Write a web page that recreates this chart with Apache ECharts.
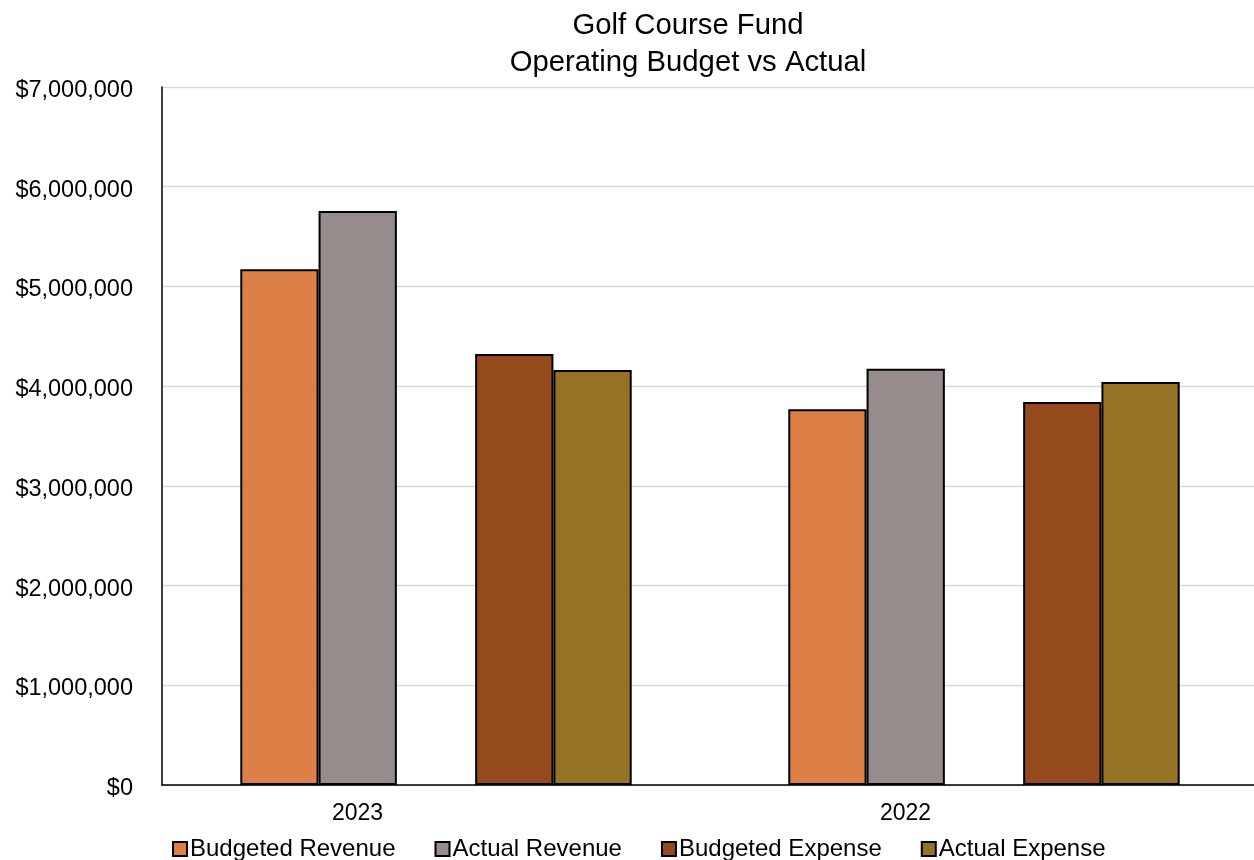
<!DOCTYPE html>
<html>
<head>
<meta charset="utf-8">
<title>Golf Course Fund</title>
<script src="https://cdn.jsdelivr.net/npm/echarts@6/dist/echarts.min.js"></script>
<style>
  html, body { margin: 0; padding: 0; background: #ffffff; }
  #chart { width: 1254px; height: 860px; }
</style>
</head>
<body>
<div id="chart"></div>
<script>
// Fiscal years shown on the category axis
const years = ['2023', '2022'];

// Series values in dollars, one per year
const budgetedRevenue = [5172000, 3768000];
const actualRevenue   = [5757000, 4175000];
const budgetedExpense = [4323000, 3841000];
const actualExpense   = [4162000, 4042000];

// Value axis ticks
const yMin = 0;
const yMax = 7000000;
const yStep = 1000000;

const FONT = '"Liberation Sans", Arial, sans-serif';

const colors = {
  budgetedRevenue: '#DD8047',
  actualRevenue: '#968C8C',
  budgetedExpense: '#944A1C',
  actualExpense: '#967225'
};

function barSeries(name, data, color) {
  return {
    name: name,
    type: 'bar',
    data: data,
    barGap: '0%',
    barCategoryGap: '28.57%',
    itemStyle: { color: color, borderColor: '#000000', borderWidth: 2 },
    emphasis: { disabled: true }
  };
}

const chart = echarts.init(document.getElementById('chart'), null, { renderer: 'canvas' });

chart.setOption({
  animation: false,
  backgroundColor: '#ffffff',
  title: {
    text: 'Golf Course Fund\nOperating Budget vs Actual',
    left: 688,
    top: 7,
    padding: 0,
    textAlign: 'center',
    textStyle: {
      fontFamily: FONT,
      fontSize: 29.3,
      fontWeight: 'normal',
      color: '#000000',
      lineHeight: 37
    }
  },
  legend: {
    data: ['Budgeted Revenue', 'Actual Revenue', 'Budgeted Expense', 'Actual Expense'],
    left: 172,
    top: 837,
    padding: 0,
    itemGap: 39,
    itemWidth: 14,
    itemHeight: 14,
    icon: 'rect',
    textStyle: { fontFamily: FONT, fontSize: 24, color: '#000000', padding: [0, 0, 0, -2] }
  },
  // plot area runs slightly past the right edge of the canvas
  grid: { left: 162, width: 1096, top: 87, bottom: 75, containLabel: false, outerBoundsMode: 'none' },
  xAxis: {
    type: 'category',
    data: years,
    axisTick: { show: false },
    axisLine: { lineStyle: { color: '#000000', width: 1.5 } },
    axisLabel: {
      fontFamily: FONT,
      fontSize: 23,
      color: '#000000',
      margin: 17,
      padding: [0, 157, 0, 0]
    },
    splitLine: { show: false }
  },
  yAxis: {
    type: 'value',
    min: yMin,
    max: yMax,
    interval: yStep,
    axisLine: { show: true, lineStyle: { color: '#000000', width: 1.5 } },
    axisTick: { show: false },
    axisLabel: {
      fontFamily: FONT,
      color: '#000000',
      margin: 29,
      formatter: function (v) { return '{v|$' + v.toLocaleString('en-US') + '}'; },
      rich: {
        v: { fontFamily: FONT, fontSize: 23.5, color: '#000000', padding: [7, 0, 0, 0] }
      }
    },
    splitLine: { lineStyle: { color: '#D9D9D9', width: 1.3 } }
  },
  series: [
    barSeries('Budgeted Revenue', budgetedRevenue, colors.budgetedRevenue),
    barSeries('Actual Revenue', actualRevenue, colors.actualRevenue),
    // empty slot separating the revenue pair from the expense pair
    { name: 'spacer', type: 'bar', data: years.map(() => '-'), barGap: '0%', barCategoryGap: '28.57%', silent: true },
    barSeries('Budgeted Expense', budgetedExpense, colors.budgetedExpense),
    barSeries('Actual Expense', actualExpense, colors.actualExpense)
  ]
});
</script>
</body>
</html>
